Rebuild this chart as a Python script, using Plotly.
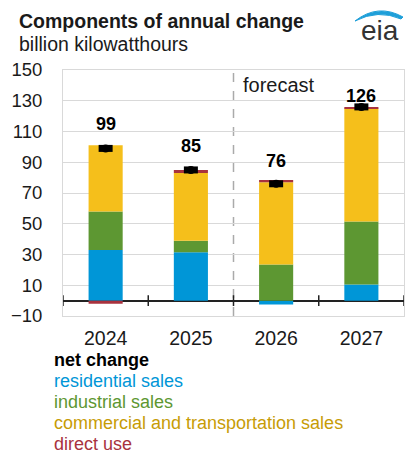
import plotly.graph_objects as go

years = ["2024", "2025", "2026", "2027"]
residential = [33, 31.5, -2.5, 10.5]
industrial = [25, 7.5, 23.5, 41]
commercial = [43, 44, 53.5, 73.5]
direct_use = [-2, 2, 1.5, 1]
net_change = [99, 85, 76, 126]
y_ticks = [-10, 10, 30, 50, 70, 90, 110, 130, 150]

C_RES = "#0096D7"
C_IND = "#5D9732"
C_COM = "#F5BF1B"
C_COM_TXT = "#C79C06"
C_DIR = "#A8323E"

OFF = 8  # default page body margin
W, H = 418 - OFF, 453 - OFF
ML, MR, MT, MB = 63 - OFF, 14, 70 - OFF, 137
PW, PH = W - ML - MR, H - MT - MB
FONT = "Liberation Sans, Arial, sans-serif"
LABEL_SHIFTS = [24, 24, 23, 11]


def px(x):
    return (x - OFF - ML) / PW


def py(y):
    return (H - MB - (y - OFF)) / PH


fig = go.Figure()
for name, vals, col in [
    ("residential sales", residential, C_RES),
    ("industrial sales", industrial, C_IND),
    ("commercial and transportation sales", commercial, C_COM),
    ("direct use", direct_use, C_DIR),
]:
    fig.add_trace(go.Bar(x=years, y=vals, name=name, marker_color=col,
                         marker_line_width=0, width=0.4))

fig.add_trace(go.Scatter(x=years, y=net_change, mode="markers", name="net change",
                         marker=dict(symbol="line-ew", size=10, color="black",
                                     line=dict(width=7, color="black"))))
fig.add_trace(go.Scatter(x=years, y=net_change, mode="markers", showlegend=False,
                         marker=dict(symbol="circle", size=8, color="black")))

annotations = []
for i, v in enumerate(net_change):
    annotations.append(dict(x=i, y=v, xref="x", yref="y", text=f"<b>{v}</b>",
                            showarrow=False, yshift=LABEL_SHIFTS[i],
                            font=dict(size=18, color="black", family=FONT)))

annotations.append(dict(x=1.5, y=140, xref="x", yref="y", text="forecast",
                        showarrow=False, xanchor="left", xshift=7,
                        font=dict(size=20, color="#1a1a1a", family=FONT)))

annotations.append(dict(x=px(17), y=py(21), xref="paper", yref="paper",
                        text="<b>Components of annual change</b>", showarrow=False,
                        xanchor="left", yanchor="middle",
                        font=dict(size=19.5, color="#1a1a1a", family=FONT)))
annotations.append(dict(x=px(17), y=py(44), xref="paper", yref="paper",
                        text="billion kilowatthours", showarrow=False,
                        xanchor="left", yanchor="middle",
                        font=dict(size=19.5, color="#1a1a1a", family=FONT)))
annotations.append(dict(x=px(380), y=py(30), xref="paper", yref="paper",
                        text="eia", showarrow=False,
                        xanchor="center", yanchor="middle",
                        font=dict(size=28, color="#333333", family=FONT)))

legend_items = [("<b>net change</b>", "black"),
                ("residential sales", C_RES),
                ("industrial sales", C_IND),
                ("commercial and transportation sales", C_COM_TXT),
                ("direct use", C_DIR)]
for i, (t, c) in enumerate(legend_items):
    annotations.append(dict(x=px(52), y=py(360 + i * 21), xref="paper", yref="paper",
                            text=t, showarrow=False, xanchor="left", yanchor="middle",
                            font=dict(size=18, color=c, family=FONT)))

shapes = []
shapes.append(dict(type="line", xref="x", yref="paper", x0=1.5, x1=1.5, y0=0, y1=1,
                   line=dict(color="#aaaaaa", width=1.5, dash="dash"), layer="below"))
for i in range(len(years) + 1):
    shapes.append(dict(type="line", xref="x", yref="y", x0=i - 0.5, x1=i - 0.5,
                       y0=-3.5, y1=3.5, line=dict(color="#222222", width=1.5)))
# eia swoosh
shapes.append(dict(type="path", xref="paper", yref="paper",
                   path=(f"M {px(355)},{py(21)} Q {px(378)},{py(3)} {px(403)},{py(17)} "
                         f"L {px(401)},{py(19)} Q {px(378)},{py(9)} {px(355)},{py(21)} Z"),
                   fillcolor="#1E9FD9", line=dict(color="#1E9FD9", width=1)))

fig.update_layout(
    width=W, height=H, margin=dict(l=ML, r=MR, t=MT, b=MB, autoexpand=False),
    barmode="relative", bargap=0.6, showlegend=False,
    plot_bgcolor="white", paper_bgcolor="white",
    font=dict(family=FONT, color="#1a1a1a"),
    annotations=annotations, shapes=shapes,
)
fig.update_xaxes(type="category", range=[-0.5, 3.5], showgrid=False, ticks="",
                 showline=True, mirror=True, linecolor="#d9d9d9", linewidth=1,
                 tickfont=dict(size=19.5, color="#1a1a1a"), ticklabelstandoff=5)
fig.update_yaxes(range=[-10, 150], tickvals=y_ticks, showgrid=True,
                 gridcolor="#d9d9d9", gridwidth=1, showline=True, mirror=True,
                 linecolor="#d9d9d9", linewidth=1, zeroline=True,
                 zerolinecolor="#222222", zerolinewidth=1.5,
                 tickfont=dict(size=18.5, color="#1a1a1a"), ticklabelstandoff=16)

fig.write_html("out.html")
